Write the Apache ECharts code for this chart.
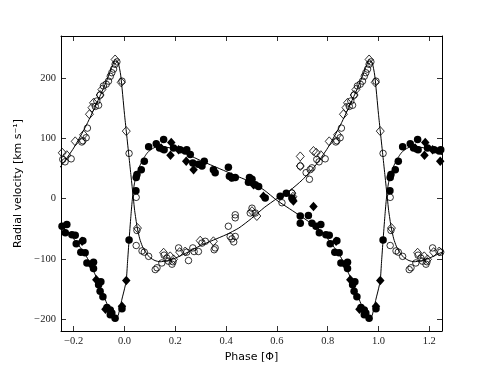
<!DOCTYPE html>
<html>
<head>
<meta charset="utf-8">
<script src="https://cdn.jsdelivr.net/npm/echarts@6.0.0/dist/echarts.min.js"></script>
<style>
html,body{margin:0;padding:0;background:#fff;}
#rvchart{width:491px;height:368px;}
</style>
</head>
<body>
<div id="rvchart"></div>
<script>
// phase ticks / velocity ticks
var phaseTicks=[-0.2,0,0.2,0.4,0.6,0.8,1.0,1.2];
var velTicks=[-200,-100,0,100,200];

// orbit solution, one period [phase, km/s]
var primaryCurve=[[0.000,-150],[0.007,-136],[0.012,-105],[0.018,-69],[0.025,-30],[0.030,-5],[0.035,14],
	[0.040,27],[0.050,42],[0.060,54],[0.070,63],[0.080,70],[0.090,76],[0.100,80],[0.120,85],[0.150,86],
	[0.200,82],[0.250,73],[0.300,63],[0.350,54],[0.400,45],[0.450,36],[0.500,27],[0.550,14],[0.600,-3],
	[0.650,-17],[0.700,-31],[0.750,-46],[0.800,-67],[0.850,-96],[0.900,-141],[0.930,-174],[0.950,-193],
	[0.963,-200],[0.975,-194],[0.990,-167],[1.000,-150]];
var secondaryCurve=[[0.000,140],[0.007,112],[0.016,76],[0.025,40],[0.030,20],[0.035,0],[0.040,-20],
	[0.050,-48],[0.060,-67],[0.070,-79],[0.080,-87],[0.090,-93],[0.100,-98],[0.120,-103],[0.140,-105],
	[0.170,-103],[0.200,-99],[0.250,-89],[0.300,-78],[0.350,-69],[0.400,-60],[0.450,-49],[0.500,-33],
	[0.550,-15],[0.600,0],[0.650,13],[0.700,31],[0.750,54],[0.800,84],[0.850,122],[0.900,167],[0.930,196],
	[0.950,218],[0.965,231],[0.975,226],[0.985,205],[1.000,140]];

// measurements, folded on phase [0,1)
var primCircles=[[0.018,-69],[0.045,13],[0.046,35],[0.049,40],[0.066,48],[0.078,62],[0.095,86],[0.125,91],
	[0.138,84],[0.154,98],[0.156,81],[0.193,84],[0.219,81],[0.239,79],[0.245,81],[0.259,73],[0.269,59],
	[0.291,57],[0.305,54],[0.314,62],[0.350,48],[0.357,43],[0.409,52],[0.413,37],[0.423,34],[0.436,35],
	[0.488,27],[0.492,35],[0.502,32],[0.515,23],[0.528,20],[0.554,1],[0.613,4],[0.637,9],[0.659,1],
	[0.692,-29],[0.692,-41],[0.724,-28],[0.738,-41],[0.754,-46],[0.773,-43],[0.767,-57],[0.793,-60],
	[0.806,-61],[0.810,-75],[0.836,-70],[0.828,-89],[0.845,-90],[0.852,-107],[0.878,-106],[0.878,-116],
	[0.907,-138],[0.898,-143],[0.904,-154],[0.915,-163],[0.931,-181],[0.944,-185],[0.950,-190],
	[0.944,-193],[0.963,-199],[0.990,-183]];
var primDiamonds=[[0.007,-136],[0.144,84],[0.181,72],[0.184,93],[0.213,81],[0.243,62],[0.272,48],
	[0.420,36],[0.508,23],[0.547,4],[0.665,-4],[0.744,-13],[0.833,-71],[0.869,-110],[0.889,-135],
	[0.925,-184],[0.990,-179]];
var secCircles=[[0.018,75],[0.046,2],[0.049,-53],[0.046,-78],[0.069,-87],[0.078,-89],[0.095,-96],
	[0.121,-118],[0.128,-115],[0.147,-107],[0.156,-94],[0.167,-99],[0.173,-104],[0.187,-109],[0.191,-105],
	[0.213,-82],[0.245,-89],[0.252,-103],[0.269,-82],[0.274,-88],[0.291,-88],[0.305,-74],[0.318,-71],
	[0.353,-85],[0.357,-82],[0.409,-46],[0.416,-63],[0.423,-67],[0.430,-72],[0.436,-63],[0.436,-27],
	[0.436,-32],[0.495,-24],[0.502,-16],[0.515,-24],[0.620,-7],[0.663,-2],[0.659,9],[0.692,54],[0.715,43],
	[0.728,32],[0.731,48],[0.738,51],[0.757,65],[0.766,61],[0.790,66],[0.832,94],[0.836,96],[0.849,101],
	[0.854,117],[0.885,153],[0.891,162],[0.898,155],[0.904,172],[0.917,187],[0.928,190],[0.937,195],
	[0.944,203],[0.950,209],[0.957,215],[0.963,223],[0.970,227],[0.990,195]];
var secDiamonds=[[0.007,112],[0.051,-49],[0.154,-90],[0.180,-96],[0.193,-101],[0.217,-89],[0.239,-88],
	[0.298,-70],[0.350,-71],[0.502,-21],[0.521,-29],[0.659,9],[0.663,3],[0.692,70],[0.692,54],[0.744,79],
	[0.755,76],[0.773,72],[0.806,95],[0.839,106],[0.862,140],[0.872,151],[0.878,159],[0.904,172],
	[0.911,181],[0.963,231],[0.987,193]];

var xMin=-0.25,xMax=1.25;

// repeat the folded points over the shown phase range
function unfold(list,pad){
	var out=[];
	[-1,0,1].forEach(function(s){
		list.forEach(function(p){
			var ph=+(p[0]+s).toFixed(3);
			if(ph>=xMin-pad && ph<=xMax+pad) out.push([ph,p[1]]);
		});
	});
	out.sort(function(a,b){return a[0]-b[0];});
	return out;
}
function curveLine(list){
	// drop the duplicated period end points
	var one=list.slice(0,list.length-1);
	return unfold(one,0.05);
}

function minus(s){return String(s).replace('-','\u2212');}

var tickFont={fontFamily:'Liberation Serif',fontSize:10.5,color:'#222'};
var black='#000';

function boxAxis(isX,pos,show){
	var a={
		type:'value',position:pos,
		min:isX?xMin:-220,max:isX?xMax:270,
		splitNumber:isX?7:5,
		axisLine:{show:true,onZero:false,lineStyle:{color:black,width:1}},
		axisTick:{show:true,inside:true,length:5,lineStyle:{color:black,width:0.8}},
		splitLine:{show:false},
		axisLabel:{show:show,showMinLabel:false,showMaxLabel:false,margin:5,
			fontFamily:tickFont.fontFamily,fontSize:tickFont.fontSize,color:tickFont.color,
			formatter:function(v){
				if(isX){
					if(phaseTicks.indexOf(+v.toFixed(2))<0) return '';
					return minus(v.toFixed(1));
				}
				if(velTicks.indexOf(v)<0) return '';
				return minus(v);
			}}
	};
	return a;
}

var xBottom=boxAxis(true,'bottom',true);
xBottom.name='Phase [\u03a6]';
xBottom.nameLocation='middle';
xBottom.nameGap=13;
xBottom.nameTextStyle={fontFamily:'DejaVu Sans',fontSize:11,color:'#000',verticalAlign:'top'};
var yLeft=boxAxis(false,'left',true);
yLeft.name='Radial velocity [km s\u207b\u00b9]';
yLeft.nameLocation='middle';
yLeft.nameGap=30;
yLeft.nameTextStyle={fontFamily:'DejaVu Sans',fontSize:11,color:'#000'};

var openStyle={color:'rgba(255,255,255,0)',borderColor:black,borderWidth:0.8,opacity:1};
var fullStyle={color:black,opacity:1};

option={
	animation:false,
	backgroundColor:'#fff',
	grid:{left:61,right:49,top:36,bottom:37,containLabel:false},
	xAxis:[xBottom,boxAxis(true,'top',false)],
	yAxis:[yLeft,boxAxis(false,'right',false)],
	series:[
		{name:'secondary open circles',type:'scatter',symbol:'circle',symbolSize:6.5,
			data:unfold(secCircles,0),itemStyle:openStyle,z:2},
		{name:'secondary open diamonds',type:'scatter',symbol:'diamond',symbolSize:[8,9],
			data:unfold(secDiamonds,0),itemStyle:openStyle,z:2},
		{name:'primary circles',type:'scatter',symbol:'circle',symbolSize:7.5,
			data:unfold(primCircles,0),itemStyle:fullStyle,z:3},
		{name:'primary diamonds',type:'scatter',symbol:'diamond',symbolSize:[8.5,9.5],
			data:unfold(primDiamonds,0),itemStyle:fullStyle,z:3},
		{name:'primary orbit',type:'line',data:curveLine(primaryCurve),showSymbol:false,symbol:'none',
			smooth:0.2,clip:true,lineStyle:{color:black,width:1},z:4},
		{name:'secondary orbit',type:'line',data:curveLine(secondaryCurve),showSymbol:false,symbol:'none',
			smooth:0.2,clip:true,lineStyle:{color:black,width:1},z:4}
	]
};
var rvchart=echarts.init(document.getElementById('rvchart'));
rvchart.setOption(option);
</script>
</body>
</html>
